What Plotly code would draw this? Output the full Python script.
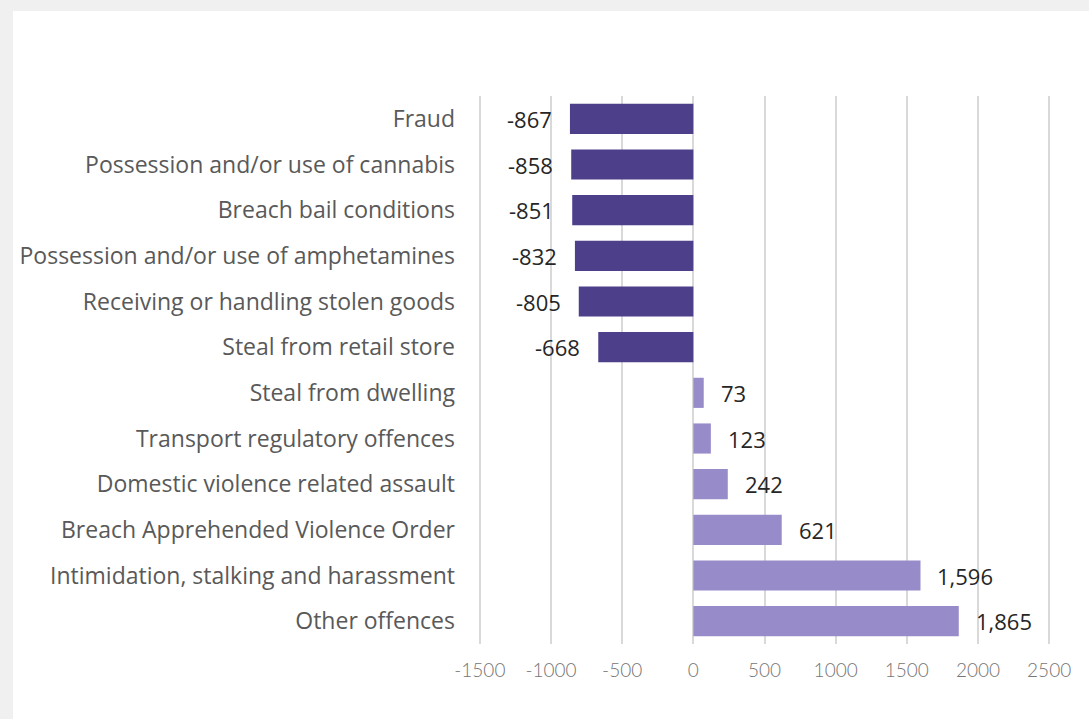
import plotly.graph_objects as go

categories = [
    "Fraud",
    "Possession and/or use of cannabis",
    "Breach bail conditions",
    "Possession and/or use of amphetamines",
    "Receiving or handling stolen goods",
    "Steal from retail store",
    "Steal from dwelling",
    "Transport regulatory offences",
    "Domestic violence related assault",
    "Breach Apprehended Violence Order",
    "Intimidation, stalking and harassment",
    "Other offences",
]
values = [-867, -858, -851, -832, -805, -668, 73, 123, 242, 621, 1596, 1865]
x_ticks = [-1500, -1000, -500, 0, 500, 1000, 1500, 2000, 2500]

NEG = "#4E3F8B"
POS = "#978BCA"
colors = [NEG if v < 0 else POS for v in values]

fig = go.Figure()
fig.add_trace(go.Bar(
    x=values, y=categories, orientation="h",
    marker=dict(color=colors, line=dict(width=0)),
    hoverinfo="x+y",
))

for c, v in zip(categories, values):
    fig.add_annotation(
        x=v, y=c, xref="x", yref="y",
        text=f"{v:,}",
        showarrow=False,
        xanchor="right" if v < 0 else "left",
        xshift=-16 if v < 0 else 15,
        font=dict(family="Open Sans, Calibri, sans-serif", size=22, color="#262626"),
    )

W, H = 1089, 719
L, R, T, B = 477, 37, 96, 75
pw, ph = W - L - R, H - T - B

# white card over grey frame
fig.add_shape(
    type="rect", xref="paper", yref="paper", layer="below",
    x0=(13 - L) / pw, x1=(W - L) / pw + 0.01,
    y0=-(B) / ph - 0.01, y1=1 + (T - 11) / ph,
    fillcolor="white", line=dict(width=0),
)

fig.update_layout(
    width=W, height=H,
    margin=dict(l=L, r=R, t=T, b=B),
    paper_bgcolor="#f0f0f0",
    plot_bgcolor="rgba(0,0,0,0)",
    showlegend=False,
    bargap=0.34,
    xaxis=dict(
        range=[-1520, 2520],
        tickvals=x_ticks,
        ticktext=[str(t) for t in x_ticks],
        showgrid=True, gridcolor="#d9d9d9", gridwidth=2,
        zeroline=False, showline=False,
        ticks="", ticklabelstandoff=13,
        tickfont=dict(family="Lato, sans-serif", size=19, color="#767676", weight=300),
        fixedrange=True,
    ),
    yaxis=dict(
        autorange="reversed",
        showgrid=False, zeroline=False, showline=False,
        ticks="", ticklabelstandoff=21,
        tickfont=dict(family="Open Sans, Calibri, sans-serif", size=23, color="#595959"),
        fixedrange=True,
    ),
)

fig.write_html(
    "out.html",
    config={"displayModeBar": False},
    post_script="document.body.style.margin='0';document.body.style.padding='0';",
)
